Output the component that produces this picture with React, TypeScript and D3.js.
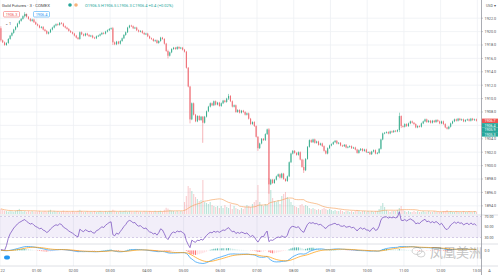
import React from 'react';
import * as d3 from 'd3';

const W = 498;
const H = 275;

// ---- data (3-minute candles, Gold Futures COMEX) ----
const FIRST_OPEN = 1920.5;
const CLOSES: number[] = [
  1918.7,1918.4,1918.0,1918.3,1918.9,1919.4,1919.8,1920.3,1920.7,1921.2,1921.6,1921.9,1922.3,1922.6,1922.2,1921.9,1921.6,1921.8,1921.4,1921.1,
  1920.9,1920.6,1920.7,1920.3,1920.1,1919.7,1919.9,1920.3,1920.6,1920.9,1921.1,1921.0,1921.3,1921.2,1920.8,1920.6,1920.4,1920.1,1919.9,1919.7,
  1919.4,1919.1,1918.9,1919.9,1919.6,1919.4,1919.7,1919.5,1919.3,1919.4,1919.1,1919.0,1919.3,1919.4,1919.6,1919.8,1919.7,1920.0,1920.2,1920.4,
  1920.5,1918.4,1918.1,1918.5,1918.2,1918.6,1919.0,1919.5,1919.9,1920.6,1920.9,1920.8,1920.5,1920.6,1920.2,1920.0,1920.1,1919.8,1919.6,1919.7,
  1919.3,1919.0,1918.9,1918.6,1918.7,1918.3,1918.6,1919.1,1918.9,1918.2,1917.1,1916.4,1916.9,1917.4,1917.6,1917.4,1917.7,1917.5,1917.6,1917.3,
  1917.0,1914.6,1911.8,1906.9,1909.3,1907.6,1906.6,1907.4,1906.8,1907.3,1906.4,1907.3,1908.1,1908.8,1909.3,1909.0,1909.6,1909.1,1909.4,1908.9,
  1909.3,1909.7,1909.5,1910.0,1910.4,1909.6,1908.8,1909.0,1908.0,1908.3,1907.9,1908.2,1908.0,1907.6,1907.8,1907.0,1906.2,1906.5,1905.9,1904.3,
  1902.6,1903.3,1904.0,1903.8,1904.7,1905.4,1897.2,1897.9,1897.4,1897.9,1898.4,1898.7,1898.2,1898.8,1898.0,1897.7,1898.4,1900.5,1901.8,1902.2,
  1901.9,1901.6,1902.0,1900.9,1899.8,1899.3,1901.0,1902.8,1903.8,1903.5,1903.9,1903.4,1903.6,1903.1,1903.3,1902.9,1902.2,1901.8,1902.6,1903.0,
  1903.2,1903.5,1903.7,1903.3,1903.4,1903.0,1902.9,1903.1,1902.7,1902.8,1902.9,1902.6,1902.7,1902.4,1901.9,1902.3,1902.5,1902.2,1902.4,1902.0,
  1902.0,1901.7,1902.1,1902.3,1901.8,1901.9,1902.5,1903.9,1904.8,1904.9,1905.0,1904.8,1905.1,1905.0,1905.2,1905.1,1905.3,1907.4,1905.9,1905.8,
  1906.2,1905.9,1906.3,1906.6,1906.4,1906.2,1905.7,1905.9,1905.8,1906.3,1906.6,1906.9,1906.5,1906.7,1906.4,1906.7,1906.5,1906.8,1906.6,1906.3,
  1906.6,1906.2,1905.7,1905.5,1905.8,1906.3,1906.6,1906.9,1906.7,1907.0,1906.8,1906.9,1906.6,1906.8,1906.9,1906.7,1907.0,1906.8,1906.9,1906.7,
];
// notable wicks: [candle index, high, low]
const WICKS: [number, number, number][] = [
  [0, 1920.8, 1918.5], [13, 1922.9, 1922.1], [61, 1920.7, 1918.0], [91, 1917.3, 1916.0],
  [103, 1911.9, 1906.3], [110, 1907.4, 1903.4], [124, 1910.7, 1909.8], [140, 1904.4, 1902.2],
  [146, 1905.6, 1895.8], [165, 1900.9, 1898.9], [217, 1907.9, 1905.0], [218, 1907.5, 1905.6],
];
const VOLUMES: number[] = [
  520,410,330,300,240,310,280,220,330,400,510,350,240,300,210,320,230,290,220,240,
  230,310,220,240,300,210,330,420,230,310,220,290,210,240,330,220,300,230,210,290,
  220,240,320,410,300,220,230,310,210,240,220,300,200,240,310,220,230,300,210,320,
  300,430,320,240,220,310,230,300,330,220,300,240,210,230,310,220,240,210,290,230,
  220,310,240,230,320,210,300,330,250,420,620,540,410,330,300,240,310,230,300,250,
  1200,1800,2800,2600,2300,2000,1700,1500,1300,1400,3400,1200,1100,1000,1200,900,800,700,800,600,
  800,600,900,700,600,1000,500,800,600,500,400,600,500,700,900,800,700,1000,1200,1400,
  2900,1200,900,800,1000,900,3600,2400,1600,1300,1200,1400,1000,1800,2000,2200,1700,1500,1200,900,
  800,700,600,900,1000,800,900,800,600,500,600,500,400,500,400,500,600,500,400,500,
  400,300,400,300,300,400,300,200,300,300,200,300,200,300,400,300,200,300,300,200,
  300,200,300,200,300,300,500,800,1100,700,400,300,200,300,300,300,400,600,800,400,
  300,200,300,200,200,300,200,300,200,200,300,200,200,300,200,200,300,200,200,200,
  200,300,300,400,200,300,200,200,300,200,200,200,300,200,200,300,200,200,300,200,
];
const TIME_LABELS = ['22','01:00','02:00','03:00','04:00','05:00','06:00','07:00','08:00','09:00','10:00','11:00','12:00','13:00'];
const PRICE_TICKS = [1894,1896,1898,1900,1902,1904,1906,1908,1910,1912,1914,1916,1918,1920,1922];
const RSI_TICKS = [70, 50, 30];
const RIGHT_TAGS = [
  { label: '1906.7', color: '#ef5350' },
  { label: '1906.4', color: '#26a69a' },
  { label: '1905.9', color: '#26a69a' },
  { label: '1905.3', color: '#26a69a' },
];
const HEADER = 'Gold Futures · 3 · COMEX';
const OHLC_TEXT = 'O1906.5 H1906.5 L1906.3 C1906.4 +0.4 (+0.02%)';
const BID = '1906.3';
const ASK = '1906.4';
const WATERMARK = '凤凰美洲';

// ---- layout ----
const PLOT_R = 481;
const SLOTS = 262;
const CANDLES_PER_HOUR = 20;
const PRICE_PANE = { top: 0, bottom: 214 };
const RSI_PANE = { top: 216, bottom: 244 };
const MACD_PANE = { top: 244, bottom: 266 };
const UP = '#3aae8f';
const DOWN = '#ee6b73';
const FONT = 'Roboto, "Liberation Sans", Arial, sans-serif';

function ema(values: number[], n: number): number[] {
  const k = 2 / (n + 1);
  const out: number[] = [];
  values.forEach((v, i) => out.push(i === 0 ? v : v * k + out[i - 1] * (1 - k)));
  return out;
}

export default function App() {
  const n = CLOSES.length;
  const opens = CLOSES.map((c, i) => (i === 0 ? FIRST_OPEN : CLOSES[i - 1]));
  const wickMap = new Map(WICKS.map(w => [w[0], w]));
  const candles = CLOSES.map((c, i) => {
    const o = opens[i];
    const w = wickMap.get(i);
    const hi = w ? w[1] : Math.max(o, c) + 0.12;
    const lo = w ? w[2] : Math.min(o, c) - 0.12;
    return { i, o, c, hi, lo, vol: VOLUMES[i] };
  });

  const x = d3.scaleBand<number>().domain(d3.range(SLOTS)).range([0, PLOT_R]).padding(0);
  const bw = x.bandwidth();
  const cx = (i: number) => (x(i) as number) + bw / 2;
  const y = d3.scaleLinear().domain([1894, 1922]).range([205.8, 18.2]);
  const yVol = d3.scaleLinear().domain([0, 4000]).range([PRICE_PANE.bottom, PRICE_PANE.bottom - 40]);

  // volume MA 20
  const volMA = VOLUMES.map((_, i) => d3.mean(VOLUMES.slice(Math.max(0, i - 19), i + 1)) as number);

  // RSI 14 (Wilder)
  const rsi: number[] = [];
  let ag = 0, al = 0;
  for (let i = 0; i < n; i++) {
    const prev = i === 0 ? FIRST_OPEN : CLOSES[i - 1];
    const ch = CLOSES[i] - prev;
    const g = Math.max(ch, 0), l = Math.max(-ch, 0);
    const len = Math.min(i + 1, 14);
    if (i === 0) { ag = g + 0.15; al = l + 0.15; }
    else { ag = (ag * (len - 1) + g) / len; al = (al * (len - 1) + l) / len; }
    rsi.push(al === 0 ? 100 : 100 - 100 / (1 + ag / al));
  }
  const yRsi = d3.scaleLinear().domain([30, 70]).range([237.5, 216.5]);

  // MACD 12/26/9
  const e12 = ema(CLOSES, 12);
  const e26 = ema(CLOSES, 26);
  const macd = e12.map((v, i) => v - e26[i]);
  const signal = ema(macd, 9);
  const hist = macd.map((v, i) => v - signal[i]);
  const mMin = d3.min(macd.concat(signal)) as number;
  const mMax = d3.max(macd.concat(signal)) as number;
  const yMacd = d3.scaleLinear().domain([mMin, Math.max(mMax, 0.5)]).range([263.5, 246.5]);

  const lineRsi = d3.line<number>().x((_, i) => cx(i)).y(v => yRsi(v));
  const lineMacd = d3.line<number>().x((_, i) => cx(i)).y(v => yMacd(v));
  const lineVolMA = d3.line<number>().x((_, i) => cx(i)).y(v => yVol(v));

  const hourXs = TIME_LABELS.map((_, h) => x(h * CANDLES_PER_HOUR) as number);
  const grid = '#eef0f4';
  const sep = '#d6d8de';
  const bodyW = 1.05;

  return (
    <div style={{ position: 'absolute', left: 0, top: 0 }}>
      <svg width={W} height={H} style={{ display: 'block', background: '#fff' }} fontFamily={FONT}>
        <defs>
          <clipPath id="plotClip"><rect x={0} y={0} width={PLOT_R} height={H} /></clipPath>
        </defs>
        {/* grid */}
        {hourXs.map((hx, k) => (
          <line key={'vg' + k} x1={hx} x2={hx} y1={0} y2={MACD_PANE.bottom} stroke={grid} strokeWidth={0.8} />
        ))}
        {PRICE_TICKS.map(p => (
          <line key={'hg' + p} x1={0} x2={PLOT_R} y1={y(p)} y2={y(p)} stroke={grid} strokeWidth={0.8} />
        ))}

        {/* volume */}
        <g clipPath="url(#plotClip)">
          {candles.map(d => (
            <rect key={'v' + d.i} x={cx(d.i) - bodyW / 2} width={bodyW}
              y={yVol(d.vol)} height={PRICE_PANE.bottom - yVol(d.vol)}
              fill={d.c >= d.o ? UP : DOWN} fillOpacity={0.35} />
          ))}
          <path d={lineVolMA(volMA) || ''} fill="none" stroke="#f5a05a" strokeWidth={0.7} strokeOpacity={0.9} />
        </g>

        {/* candles */}
        <g clipPath="url(#plotClip)">
          {candles.map(d => {
            const col = d.c >= d.o ? UP : DOWN;
            const top = y(Math.max(d.o, d.c));
            const bot = y(Math.min(d.o, d.c));
            return (
              <g key={'c' + d.i}>
                <rect x={cx(d.i) - 0.25} width={0.5} y={y(d.hi)} height={y(d.lo) - y(d.hi)} fill={col} />
                <rect x={cx(d.i) - bodyW / 2} width={bodyW} y={top} height={Math.max(0.8, bot - top)} fill={col} />
              </g>
            );
          })}
        </g>

        {/* pane separators */}
        <line x1={0} x2={W} y1={PRICE_PANE.bottom + 1} y2={PRICE_PANE.bottom + 1} stroke={sep} strokeWidth={0.8} />
        <line x1={0} x2={W} y1={RSI_PANE.bottom} y2={RSI_PANE.bottom} stroke={sep} strokeWidth={0.8} />
        <line x1={0} x2={W} y1={MACD_PANE.bottom} y2={MACD_PANE.bottom} stroke={sep} strokeWidth={0.8} />

        {/* RSI */}
        <rect x={0} width={PLOT_R} y={yRsi(70)} height={yRsi(30) - yRsi(70)} fill="#7e57c2" fillOpacity={0.1} />
        <line x1={0} x2={PLOT_R} y1={yRsi(70)} y2={yRsi(70)} stroke="#b2a3d3" strokeWidth={0.5} strokeDasharray="2,2" />
        <line x1={0} x2={PLOT_R} y1={yRsi(30)} y2={yRsi(30)} stroke="#b2a3d3" strokeWidth={0.5} strokeDasharray="2,2" />
        <path d={lineRsi(rsi) || ''} fill="none" stroke="#7e57c2" strokeWidth={0.8} clipPath="url(#plotClip)" />

        {/* MACD */}
        <g clipPath="url(#plotClip)">
          {hist.map((h, i) => {
            const rising = i > 0 && h > hist[i - 1];
            const col = h >= 0 ? (rising ? '#26a69a' : '#b2dfdb') : (rising ? '#ffcdd2' : '#ff5252');
            const y0 = yMacd(0), y1 = yMacd(h);
            return <rect key={'h' + i} x={cx(i) - bodyW / 2} width={bodyW} y={Math.min(y0, y1)} height={Math.abs(y1 - y0)} fill={col} fillOpacity={0.8} />;
          })}
          <path d={lineMacd(macd) || ''} fill="none" stroke="#2196f3" strokeWidth={0.7} />
          <path d={lineMacd(signal) || ''} fill="none" stroke="#ff9800" strokeWidth={0.7} />
        </g>

        {/* price axis */}
        <line x1={PLOT_R + 0.5} x2={PLOT_R + 0.5} y1={0} y2={H} stroke="#9598a1" strokeWidth={0.8} />
        {PRICE_TICKS.map(p => (
          <g key={'pt' + p}>
            <line x1={PLOT_R} x2={PLOT_R + 2} y1={y(p)} y2={y(p)} stroke="#9598a1" strokeWidth={0.5} />
            <text x={PLOT_R + 3.5} y={y(p) + 1.3} fontSize={3.8} fill="#555">{p.toFixed(1)}</text>
          </g>
        ))}
        <text x={PLOT_R + 5} y={6.5} fontSize={3.6} fill="#555">USD ▾</text>
        {RIGHT_TAGS.map((t, k) => (
          <g key={'tag' + k}>
            <rect x={PLOT_R + 1} y={118.6 + k * 4.5} width={W - PLOT_R - 1} height={4.5} fill={t.color} />
            <text x={PLOT_R + 3.5} y={122.1 + k * 4.5} fontSize={3.6} fill="#fff">{t.label}</text>
          </g>
        ))}
        {RSI_TICKS.map(v => (
          <text key={'r' + v} x={PLOT_R + 3.5} y={yRsi(v) + 1.3} fontSize={3.6} fill="#555">{v.toFixed(2)}</text>
        ))}
        <text x={PLOT_R + 3.5} y={yMacd(0) + 1.3} fontSize={3.6} fill="#555">0.0</text>

        {/* time axis */}
        <g clipPath="url(#plotClip)">
          {TIME_LABELS.map((t, k) => (
            <text key={'t' + k} x={k === 0 ? 0.5 : hourXs[k]} y={271.5} fontSize={3.8} fill="#555"
              textAnchor={k === 0 ? 'start' : 'middle'}>{t}</text>
          ))}
        </g>
        <text x={489.5} y={271.5} fontSize={3.8} fill="#555" textAnchor="middle">A</text>

        {/* header */}
        <text x={2} y={6.5} fontSize={4.3} fill="#444">{HEADER}</text>
        <circle cx={70} cy={5} r={1.8} fill="#26a69a" />
        <circle cx={76} cy={5} r={1.8} fill="#f7b27a" />
        <text x={85} y={6.5} fontSize={4} fill="#26a69a">{OHLC_TEXT}</text>
        <rect x={3.5} y={11.5} width={16} height={5.5} rx={1} fill="#fff" stroke="#ef5350" strokeWidth={0.5} />
        <text x={11.5} y={15.6} fontSize={3.8} fill="#ef5350" textAnchor="middle">{BID}</text>
        <text x={26} y={15.6} fontSize={3.8} fill="#777" textAnchor="middle">×</text>
        <rect x={33.5} y={11.5} width={16} height={5.5} rx={1} fill="#fff" stroke="#2196f3" strokeWidth={0.5} />
        <text x={41.5} y={15.6} fontSize={3.8} fill="#2196f3" textAnchor="middle">{ASK}</text>
        <text x={5} y={24.5} fontSize={3.8} fill="#444">⌄ 1</text>

        {/* logo */}
        <rect x={4} y={255.5} width={6} height={4} rx={2} fill="#2196f3" />

        {/* watermark */}
        <g opacity={0.35}>
          <ellipse cx={417} cy={251} rx={5} ry={3.5} fill="none" stroke="#666" strokeWidth={0.8} />
          <ellipse cx={421} cy={254} rx={4} ry={3} fill="none" stroke="#666" strokeWidth={0.8} />
          <text x={430} y={257} fontSize={13} fill="#555" fontFamily='"Noto Sans CJK SC", sans-serif'>{WATERMARK}</text>
        </g>
      </svg>
    </div>
  );
}
